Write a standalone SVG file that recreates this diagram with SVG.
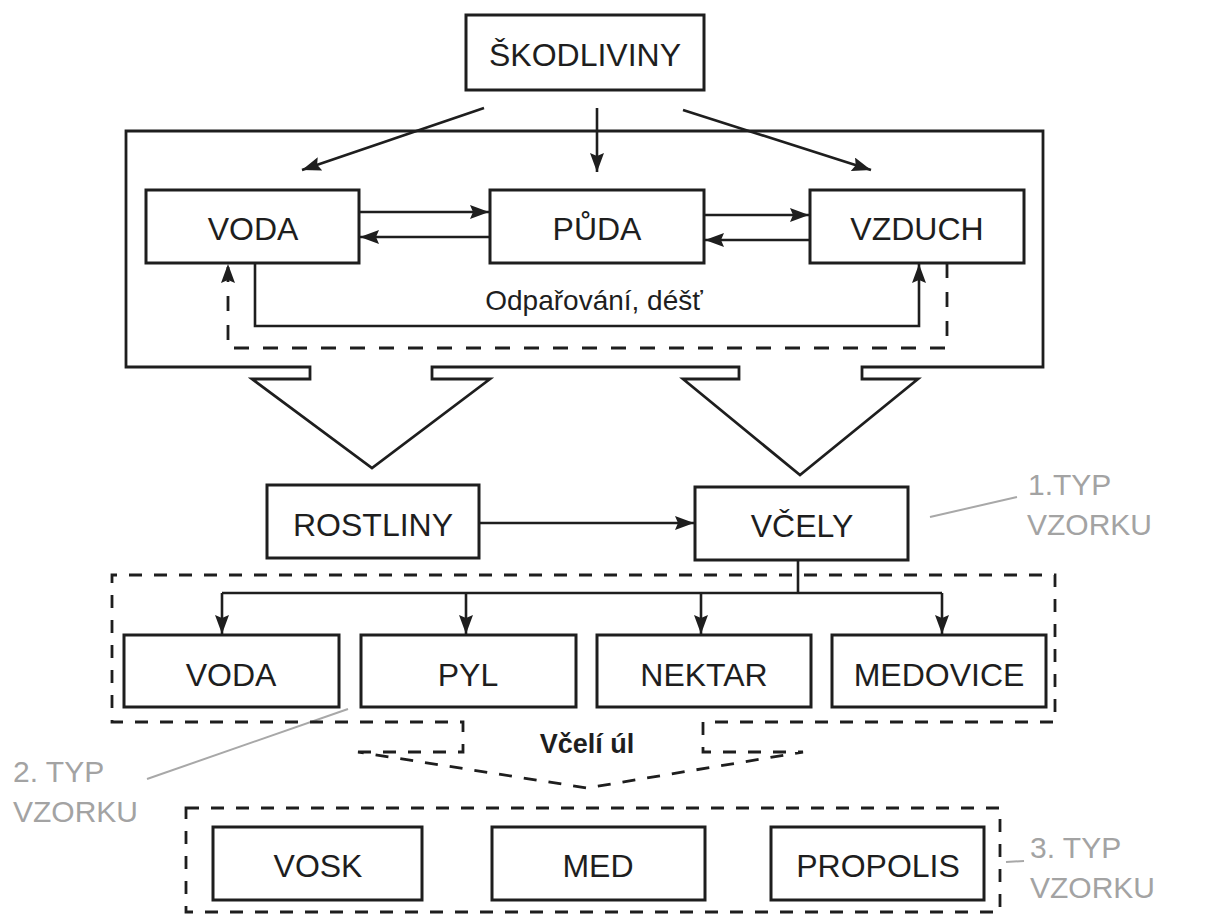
<svg xmlns="http://www.w3.org/2000/svg" width="1216" height="918" viewBox="0 0 1216 918">
<style>
.box{fill:#fff;stroke:#1e1e1e;stroke-width:3}
.t{font-family:"Liberation Sans",Arial,sans-serif;font-size:32px;fill:#1e1e1e;text-anchor:middle}
.ln{stroke:#1e1e1e;stroke-width:2.6;fill:none}
.dash{stroke:#1e1e1e;stroke-width:2.8;fill:none;stroke-dasharray:13 12}
.dash2{stroke:#1e1e1e;stroke-width:2.8;fill:none;stroke-dasharray:15 14}
.lbl{font-family:"Liberation Sans",Arial,sans-serif;font-size:30px;fill:#a3a3a3}
.lead{stroke:#a8a8a8;stroke-width:2;fill:none}
</style>
<defs>
<marker id="ah" markerUnits="userSpaceOnUse" markerWidth="20" markerHeight="14" refX="19" refY="7" orient="auto">
<path d="M0,0 L19,7 L0,14 L3,7 z" fill="#1e1e1e" stroke="none"/>
</marker>
</defs>
<rect width="1216" height="918" fill="#fff"/>

<g id="environment">
<path class="ln" style="stroke-width:2.8" d="M126,131 H1043 V367 H862 V379 H918 L800,475 L683,379 H739 V367 H432 V379 H490 L372,468 L252,379 H310 V367 H126 Z"/>
</g>

<g id="connectors">
<path class="ln" d="M484,108 L302,170" marker-end="url(#ah)"/>
<path class="ln" d="M597,108 V172" marker-end="url(#ah)"/>
<path class="ln" d="M683,110 L871,170" marker-end="url(#ah)"/>
<path class="ln" d="M359,212 H489" marker-end="url(#ah)"/>
<path class="ln" d="M490,237 H360" marker-end="url(#ah)"/>
<path class="ln" d="M704,215 H809" marker-end="url(#ah)"/>
<path class="ln" d="M810,240 H705" marker-end="url(#ah)"/>
<path class="ln" d="M255,263 V326 H919 V264" marker-end="url(#ah)"/>
<path class="dash2" d="M947,263 V348 H228 V264" marker-end="url(#ah)"/>
<path class="ln" d="M479,523 H694" marker-end="url(#ah)"/>
<path class="ln" d="M798,560 V593 M222,593 H942"/>
<path class="ln" d="M222,593 V634" marker-end="url(#ah)"/>
<path class="ln" d="M466,593 V634" marker-end="url(#ah)"/>
<path class="ln" d="M701,593 V634" marker-end="url(#ah)"/>
<path class="ln" d="M942,593 V634" marker-end="url(#ah)"/>
<path class="lead" d="M930,517 L1017,497"/>
<path class="lead" d="M147,779 L348,709"/>
<path class="lead" d="M1006,862 L1024,861"/>
</g>

<g id="hive-sources">
<path class="dash" d="M358,752 H463 V722 H112 V575 H1055 V722 H703 V752 H803 L587,788 Z"/>
</g>
<g id="hive-products">
<rect class="dash" x="186" y="808" width="814" height="104"/>
</g>

<g id="skodliviny"><rect class="box" x="466" y="15" width="238" height="75"/><text class="t" x="585" y="66">ŠKODLIVINY</text></g>
<g id="voda1"><rect class="box" x="146" y="190" width="213" height="73"/><text class="t" x="253" y="240">VODA</text></g>
<g id="puda"><rect class="box" x="490" y="190" width="214" height="73"/><text class="t" x="597" y="240">PŮDA</text></g>
<g id="vzduch"><rect class="box" x="810" y="190" width="214" height="73"/><text class="t" x="917" y="240">VZDUCH</text></g>
<g id="odparovani"><text class="t" style="font-size:28px" x="594" y="310">Odpařování, déšť</text></g>

<g id="rostliny"><rect class="box" x="267" y="485" width="212" height="73"/><text class="t" x="373" y="536">ROSTLINY</text></g>
<g id="vcely"><rect class="box" x="695" y="487" width="213" height="73"/><text class="t" x="802" y="537">VČELY</text></g>

<g id="voda2"><rect class="box" x="124" y="635" width="215" height="72"/><text class="t" x="231" y="686">VODA</text></g>
<g id="pyl"><rect class="box" x="361" y="635" width="215" height="72"/><text class="t" x="468" y="686">PYL</text></g>
<g id="nektar"><rect class="box" x="597" y="635" width="214" height="72"/><text class="t" x="704" y="686">NEKTAR</text></g>
<g id="medovice"><rect class="box" x="832" y="635" width="214" height="72"/><text class="t" x="939" y="686">MEDOVICE</text></g>

<g id="vceli-ul"><text class="t" style="font-size:27px;font-weight:bold" x="587" y="753">Včelí úl</text></g>

<g id="vosk"><rect class="box" x="213" y="827" width="209" height="73"/><text class="t" x="318" y="877">VOSK</text></g>
<g id="med"><rect class="box" x="492" y="827" width="213" height="73"/><text class="t" x="598" y="877">MED</text></g>
<g id="propolis"><rect class="box" x="771" y="827" width="213" height="73"/><text class="t" x="878" y="877">PROPOLIS</text></g>

<g id="typ1"><text class="lbl" x="1028" y="495">1.TYP</text><text class="lbl" x="1027" y="535">VZORKU</text></g>
<g id="typ2"><text class="lbl" x="13" y="782">2. TYP</text><text class="lbl" x="13" y="822">VZORKU</text></g>
<g id="typ3"><text class="lbl" x="1030" y="858">3. TYP</text><text class="lbl" x="1030" y="898">VZORKU</text></g>
</svg>
